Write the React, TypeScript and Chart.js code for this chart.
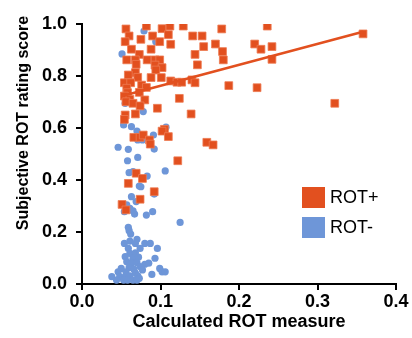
import React, { useEffect, useRef } from "react";
import { Chart, registerables } from "chart.js";

Chart.register(...registerables);

// ROT+ (orange squares)
const rotPlusX = [0.056,0.082,0.060,0.055,0.075,0.090,0.102,0.112,0.110,0.129,0.141,0.153,0.099,0.113,0.063,0.088,0.073,0.144,0.057,0.068,0.083,0.093,0.099,0.069,0.147,0.093,0.102,0.094,0.068,0.059,0.071,0.088,0.101,0.054,0.062,0.076,0.113,0.121,0.127,0.057,0.082,0.058,0.073,0.054,0.061,0.080,0.056,0.065,0.074,0.124,0.096,0.139,0.068,0.055,0.054,0.105,0.066,0.074,0.078,0.086,0.087,0.102,0.110,0.122,0.069,0.077,0.059,0.092,0.074,0.051,0.056,0.178,0.236,0.155,0.170,0.179,0.180,0.220,0.228,0.242,0.242,0.358,0.140,0.144,0.187,0.223,0.322,0.159,0.167];
const rotPlusY = [0.981,0.992,0.954,0.932,0.941,0.954,0.982,0.992,0.959,0.992,0.954,0.954,0.932,0.922,0.903,0.903,0.883,0.883,0.862,0.862,0.862,0.862,0.862,0.845,0.843,0.842,0.832,0.823,0.813,0.804,0.795,0.794,0.794,0.774,0.774,0.765,0.781,0.776,0.776,0.753,0.756,0.736,0.737,0.723,0.710,0.708,0.701,0.695,0.685,0.714,0.676,0.654,0.654,0.650,0.633,0.595,0.564,0.564,0.573,0.554,0.538,0.588,0.567,0.474,0.426,0.406,0.387,0.355,0.326,0.306,0.285,0.981,0.992,0.913,0.923,0.894,0.862,0.923,0.903,0.913,0.864,0.962,0.785,0.774,0.763,0.755,0.695,0.545,0.535];

// ROT- (blue circles)
const rotMinusX = [0.079,0.094,0.051,0.055,0.078,0.053,0.063,0.070,0.107,0.091,0.071,0.077,0.046,0.059,0.092,0.071,0.058,0.060,0.065,0.083,0.106,0.073,0.075,0.092,0.063,0.069,0.057,0.061,0.054,0.065,0.067,0.082,0.090,0.125,0.059,0.060,0.062,0.070,0.061,0.054,0.068,0.080,0.087,0.059,0.074,0.096,0.061,0.068,0.055,0.065,0.072,0.093,0.057,0.063,0.070,0.080,0.085,0.050,0.060,0.066,0.074,0.077,0.046,0.056,0.068,0.099,0.102,0.106,0.089,0.038,0.048,0.055,0.061,0.071,0.053,0.058,0.065,0.070,0.073,0.044];
const rotMinusY = [0.973,0.932,0.885,0.695,0.663,0.612,0.605,0.588,0.603,0.573,0.554,0.554,0.526,0.518,0.519,0.487,0.474,0.428,0.432,0.415,0.435,0.377,0.374,0.346,0.336,0.317,0.304,0.291,0.278,0.281,0.269,0.265,0.278,0.237,0.218,0.205,0.192,0.172,0.165,0.156,0.156,0.156,0.156,0.137,0.137,0.137,0.118,0.120,0.105,0.099,0.103,0.099,0.086,0.080,0.082,0.076,0.080,0.060,0.063,0.057,0.067,0.054,0.047,0.047,0.043,0.060,0.047,0.047,0.037,0.028,0.028,0.028,0.031,0.031,0.015,0.015,0.015,0.015,0.022,0.015];

// Regression line for ROT+
const fitX = [0.05, 0.358];
const fitY = [0.722, 0.970];

const xTicks = [0, 0.1, 0.2, 0.3, 0.4];
const yTicks = [0, 0.2, 0.4, 0.6, 0.8, 1.0];

const legendLabels = ["ROT+", "ROT-"];
const ORANGE = "#E2501F";
const BLUE = "#6E96D8";
const legendColors = [ORANGE, BLUE];

const FONT = "Arial, 'Liberation Sans', Helvetica, sans-serif";

const overlayPlugin = {
  id: "overlay",
  afterDraw(chart: any) {
    const ctx = chart.ctx;
    ctx.save();
    // y axis title
    ctx.fillStyle = "#000";
    ctx.font = `bold 16px ${FONT}`;
    ctx.textAlign = "center";
    ctx.textBaseline = "middle";
    ctx.translate(24, 123);
    ctx.rotate(-Math.PI / 2);
    ctx.fillText("Subjective ROT rating score", 0, 0);
    ctx.restore();

    // legend
    ctx.save();
    ctx.font = `18px ${FONT}`;
    ctx.textAlign = "left";
    ctx.textBaseline = "middle";
    legendLabels.forEach((lab, i) => {
      const top = 187 + i * 30;
      ctx.fillStyle = legendColors[i];
      ctx.fillRect(302, top, 23, 21);
      ctx.fillStyle = "#000";
      ctx.fillText(lab, 330, top + 11);
    });
    ctx.restore();
  },
};

export default function App() {
  const ref = useRef<HTMLCanvasElement>(null);
  useEffect(() => {
    if (!ref.current) return;
    const chart = new Chart(ref.current, {
      type: "scatter",
      data: {
        datasets: [
          {
            type: "line",
            label: "fit",
            data: fitX.map((x, i) => ({ x, y: fitY[i] })),
            borderColor: ORANGE,
            borderWidth: 2.5,
            pointRadius: 0,
            fill: false,
            order: 0,
          } as any,
          {
            label: "ROT+",
            data: rotPlusX.map((x, i) => ({ x, y: rotPlusY[i] })),
            backgroundColor: ORANGE,
            borderColor: "#EE7A50",
            borderWidth: 0.8,
            pointStyle: "rect",
            pointRadius: 5.5,
            order: 1,
          },
          {
            label: "ROT-",
            data: rotMinusX.map((x, i) => ({ x, y: rotMinusY[i] })),
            backgroundColor: BLUE,
            borderColor: BLUE,
            borderWidth: 0,
            pointStyle: "circle",
            pointRadius: 3.6,
            order: 2,
          },
        ],
      },
      options: {
        responsive: false,
        animation: false,
        devicePixelRatio: 1,
        layout: { padding: { top: 24, right: 16, left: 0, bottom: 0 } },
        plugins: { legend: { display: false }, tooltip: { enabled: false } },
        scales: {
          x: {
            type: "linear",
            min: 0,
            max: 0.4,
            afterBuildTicks: (s: any) => {
              s.ticks = xTicks.map((v) => ({ value: v }));
            },
            afterFit: (s: any) => {
              s.height = 54;
            },
            ticks: {
              color: "#000",
              font: { family: FONT, size: 18, weight: "bold" },
              padding: 1,
              maxRotation: 0,
              callback: (v: any) => Number(v).toFixed(1),
            },
            border: { color: "#000", width: 2 },
            grid: {
              drawOnChartArea: false,
              drawTicks: true,
              tickLength: 6,
              color: "#000",
              lineWidth: 2,
            },
            title: {
              display: true,
              text: "Calculated ROT measure",
              color: "#000",
              font: { family: FONT, size: 18, weight: "bold" },
              padding: { top: 0, bottom: 5 },
            },
          },
          y: {
            type: "linear",
            min: 0,
            max: 1,
            afterBuildTicks: (s: any) => {
              s.ticks = yTicks.map((v) => ({ value: v }));
            },
            afterFit: (s: any) => {
              s.width = 82;
            },
            ticks: {
              color: "#000",
              font: { family: FONT, size: 18, weight: "bold" },
              padding: 9,
              callback: (v: any) => Number(v).toFixed(1),
            },
            border: { color: "#000", width: 2 },
            grid: {
              drawOnChartArea: false,
              drawTicks: true,
              tickLength: 6,
              color: "#000",
              lineWidth: 2,
            },
          },
        },
      },
      plugins: [overlayPlugin],
    });
    return () => chart.destroy();
  }, []);
  return (
    <div style={{ position: "fixed", left: 0, top: 0, width: 412, height: 338, background: "#fff" }}>
      <canvas ref={ref} width={412} height={338} style={{ display: "block" }} />
    </div>
  );
}
